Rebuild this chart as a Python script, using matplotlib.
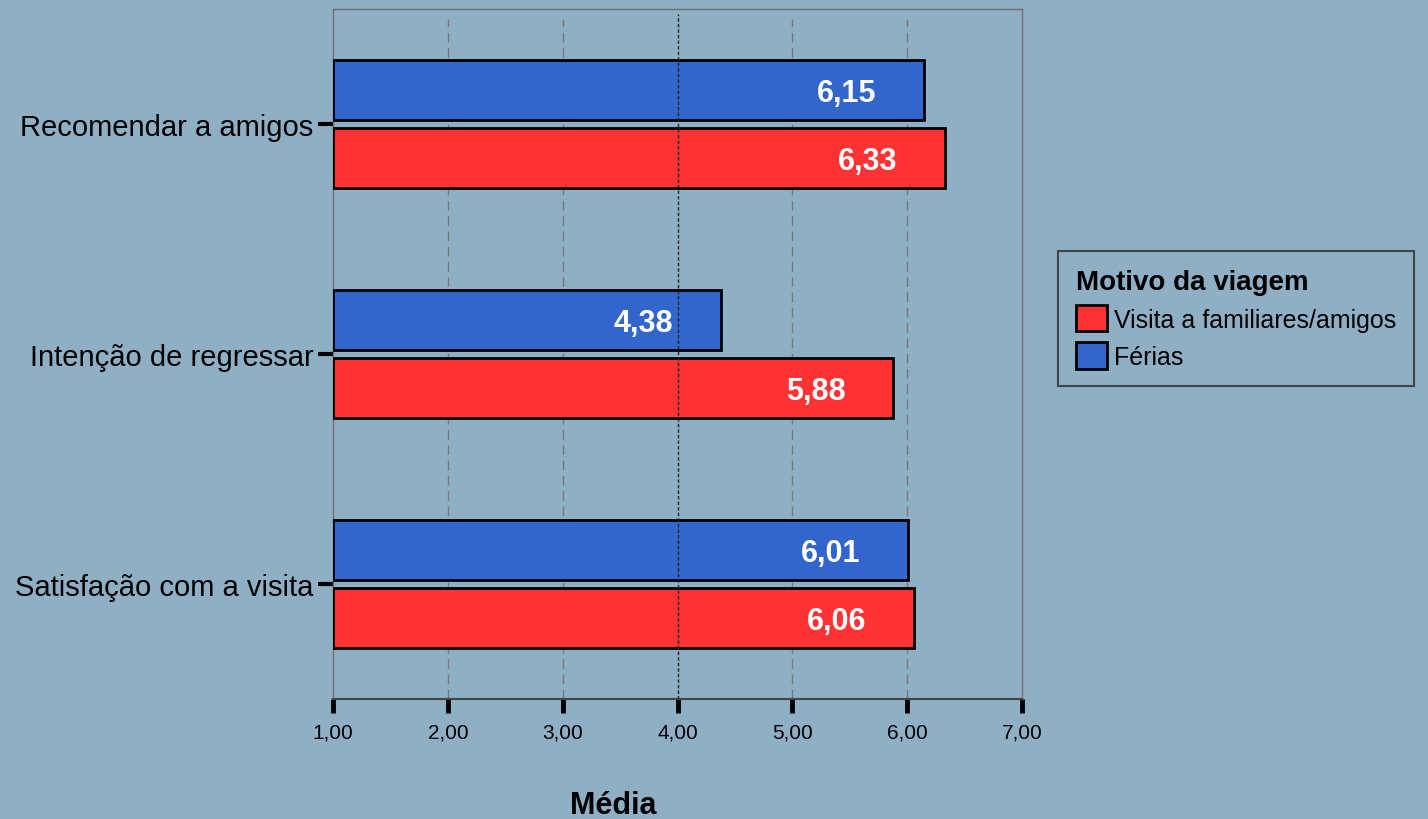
import numpy as np
import matplotlib.pyplot as plt

plt.rcParams['font.family'] = ['Liberation Sans', 'DejaVu Sans']

categories = ["Recomendar a amigos", "Intenção de regressar", "Satisfação com a visita"]
ferias = [6.15, 4.38, 6.01]
visita = [6.33, 5.88, 6.06]
series_names = ["Visita a familiares/amigos", "Férias"]
xticks = [1, 2, 3, 4, 5, 6, 7]

bg = '#8FAFC5'
blue = '#3366CC'
red = '#FF3333'


def fmt(v):
    return f"{v:.2f}".replace('.', ',')


fig = plt.figure(figsize=(14.28, 8.2), dpi=100, facecolor=bg)
ax = fig.add_axes([333 / 1428, 1 - 700 / 820, (1022 - 333) / 1428, 690 / 820])
ax.set_facecolor(bg)

# categories from top to bottom
y = np.arange(len(categories))[::-1].astype(float)
h = 0.26
off = 0.148

b_vis = ax.barh(y - off, np.array(visita) - 1, left=1, height=h, color=red,
                edgecolor='black', linewidth=2, label=series_names[0], zorder=3)
b_fer = ax.barh(y + off, np.array(ferias) - 1, left=1, height=h, color=blue,
                edgecolor='black', linewidth=2, label=series_names[1], zorder=3)

for yy, v in zip(y - off, visita):
    ax.annotate(fmt(v), xy=(v, yy), xytext=(-34.5, -2), textcoords='offset points',
                ha='right', va='center', color='white', fontsize=22,
                fontweight='bold', zorder=5)
for yy, v in zip(y + off, ferias):
    ax.annotate(fmt(v), xy=(v, yy), xytext=(-34.5, -2), textcoords='offset points',
                ha='right', va='center', color='white', fontsize=22,
                fontweight='bold', zorder=5)

# grid / reference line
for xv in [2, 3, 5, 6]:
    ax.axvline(xv, ymin=0, ymax=0.985, color='#777777', linewidth=1,
               linestyle=(0, (7, 4)), zorder=1)
ax.axvline(4, ymin=0, ymax=0.993, color='#222222', linewidth=1,
           linestyle=(0, (2.5, 1.5)), zorder=4)

ax.set_xlim(1, 7)
ax.set_ylim(-0.5, 2.5)
ax.set_xticks(xticks)
ax.set_xticklabels([fmt(t) for t in xticks], fontsize=15)
ax.set_yticks(y)
ax.set_yticklabels(categories, fontsize=21)
ax.tick_params(axis='x', direction='out', length=10, width=3.5, color='black', pad=7)
ax.tick_params(axis='y', direction='out', length=11, width=3, color='black', pad=3)

for s in ['top', 'right', 'left']:
    ax.spines[s].set_color('#707070')
    ax.spines[s].set_linewidth(1)
ax.spines['bottom'].set_color('#444444')
ax.spines['bottom'].set_linewidth(1.5)

fig.text(613 / 1428, 1 - 806 / 820, "Média", ha='center', va='center',
         fontsize=22, fontweight='bold')

leg = ax.legend(handles=[b_vis, b_fer], labels=series_names, title="Motivo da viagem",
                loc='upper left', bbox_to_anchor=(1058 / 1428, 1 - 252 / 820),
                bbox_transform=fig.transFigure, borderaxespad=0, fontsize=18,
                title_fontproperties={'weight': 'bold', 'size': 20},
                alignment='left', fancybox=False, facecolor=bg, framealpha=1,
                edgecolor='#444444', handlelength=1.25, handleheight=1.25,
                handletextpad=0.3, labelspacing=0.42, borderpad=0.7)
leg.get_frame().set_linewidth(1.5)

fig.savefig('out.png', dpi=100, facecolor=bg)
